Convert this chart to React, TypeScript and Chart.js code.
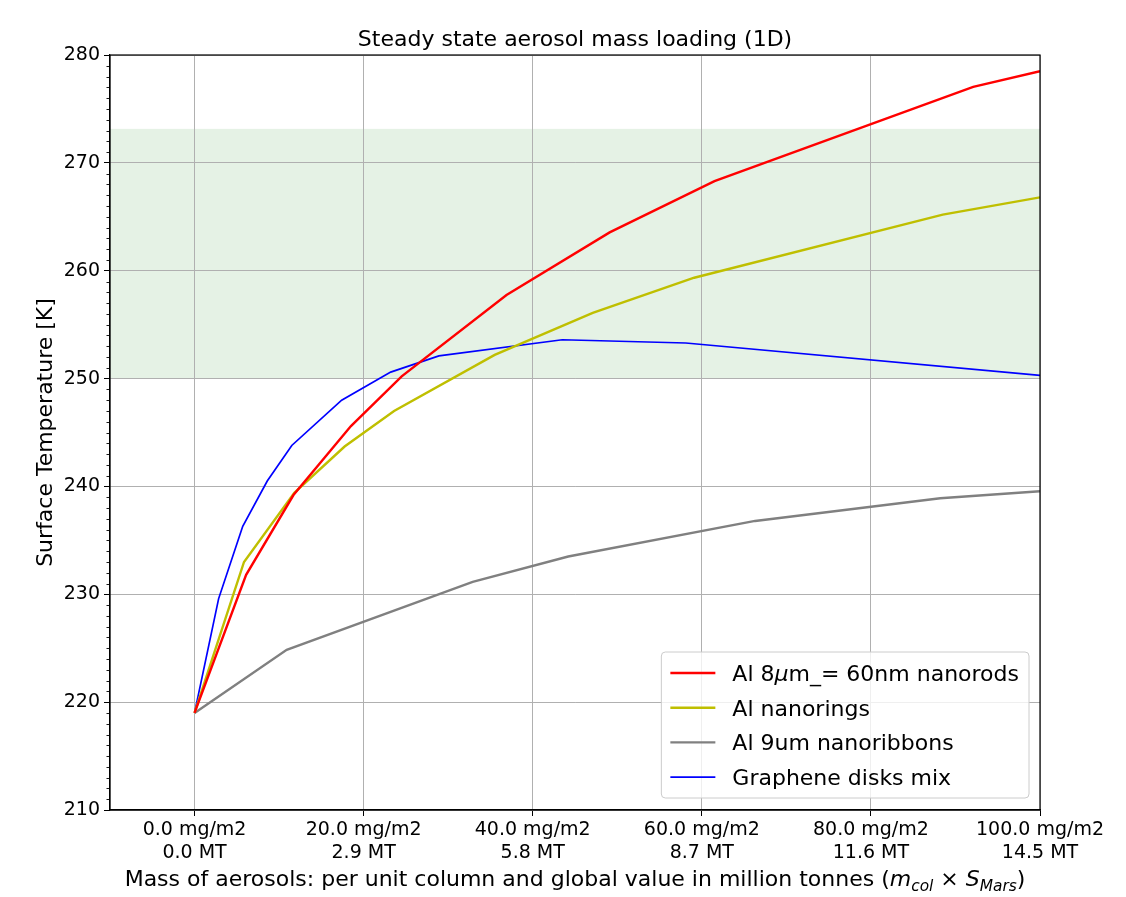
import React, { useEffect, useRef } from "react";
import { Chart, registerables } from "chart.js";

Chart.register(...registerables);

const FONT = "'DejaVu Sans', 'Liberation Sans', sans-serif";

const chartTitle = "Steady state aerosol mass loading (1D)";
const yAxisTitle = "Surface Temperature [K]";
const xAxisTitleMain = "Mass of aerosols: per unit column and global value in million tonnes (";

const seriesLabels = [
  "Al 8μm_= 60nm nanorods",
  "Al nanorings",
  "Al 9um nanoribbons",
  "Graphene disks mix",
];
const seriesColors = ["#ff0000", "#bfbf00", "#808080", "#0000ff"];
const seriesWidths = [2.4, 2.4, 2.4, 1.7];

const redX = [0, 6.1, 11.7, 18.5, 24.5, 36.9, 49.1, 61.5, 92.1, 100];
const redY = [219.0, 231.8, 239.2, 245.6, 250.2, 257.75, 263.55, 268.3, 277.05, 278.5];

const yellowX = [0, 5.85, 11.8, 17.75, 23.6, 35.5, 47.1, 59.1, 88.5, 100];
const yellowY = [219.0, 233.0, 239.4, 243.7, 247.0, 252.2, 256.1, 259.35, 265.2, 266.8];

const grayX = [0, 10.9, 32.9, 44.2, 66.3, 88.2, 100];
const grayY = [219.0, 224.85, 231.15, 233.5, 236.8, 238.9, 239.55];

const blueX = [0, 2.85, 5.7, 8.6, 11.5, 17.4, 23.2, 28.9, 43.5, 58.1, 100];
const blueY = [219.0, 229.6, 236.3, 240.5, 243.8, 248.0, 250.6, 252.1, 253.6, 253.3, 250.3];

const xTickValues = [0, 20, 40, 60, 80, 100];
const xTickMass = ["0.0 mg/m2", "20.0 mg/m2", "40.0 mg/m2", "60.0 mg/m2", "80.0 mg/m2", "100.0 mg/m2"];
const xTickMT = ["0.0 MT", "2.9 MT", "5.8 MT", "8.7 MT", "11.6 MT", "14.5 MT"];
const xRange = [-10, 100];
const yRange = [210, 280];
const yMinorStep = 1;
const habitableBand = [250, 273.15];

type Seg = { t: string; it?: boolean; sub?: boolean };

function drawSegments(
  ctx: CanvasRenderingContext2D,
  segs: Seg[],
  x: number,
  y: number,
  size: number,
  align: "left" | "center"
) {
  const fontFor = (s: Seg) => `${s.it ? "italic " : ""}${s.sub ? size * 0.7 : size}px ${FONT}`;
  const widths = segs.map((s) => {
    ctx.font = fontFor(s);
    return ctx.measureText(s.t).width;
  });
  const total = widths.reduce((a, b) => a + b, 0);
  let cx = align === "center" ? x - total / 2 : x;
  ctx.textAlign = "left";
  ctx.textBaseline = "alphabetic";
  segs.forEach((s, i) => {
    ctx.font = fontFor(s);
    ctx.fillText(s.t, cx, y + (s.sub ? size * 0.22 : 0));
    cx += widths[i];
  });
  return total;
}

function labelSegs(label: string): Seg[] {
  const parts = label.split("μ");
  const segs: Seg[] = [];
  parts.forEach((p, i) => {
    if (i > 0) segs.push({ t: "μ", it: true });
    if (p) segs.push({ t: p });
  });
  return segs;
}

export default function App() {
  const ref = useRef<HTMLCanvasElement>(null);

  useEffect(() => {
    const canvas = ref.current;
    if (!canvas) return;

    const xs = [redX, yellowX, grayX, blueX];
    const ys = [redY, yellowY, grayY, blueY];

    const decor = {
      id: "decor",
      beforeDraw(chart: any) {
        const { ctx, chartArea: a, scales } = chart;
        ctx.save();
        ctx.fillStyle = "#ffffff";
        ctx.fillRect(0, 0, chart.width, chart.height);
        const yTop = scales.y.getPixelForValue(habitableBand[1]);
        const yBot = scales.y.getPixelForValue(habitableBand[0]);
        ctx.fillStyle = "rgba(0,128,0,0.1)";
        ctx.fillRect(a.left, yTop, a.right - a.left, yBot - yTop);
        ctx.restore();
      },
      afterDraw(chart: any) {
        const { ctx, chartArea: a, scales } = chart;
        ctx.save();
        // spines
        ctx.strokeStyle = "#000";
        ctx.lineWidth = 1.2;
        ctx.strokeRect(a.left, a.top, a.right - a.left, a.bottom - a.top);
        // minor ticks on y
        ctx.lineWidth = 0.9;
        for (let v = yRange[0]; v <= yRange[1]; v += yMinorStep) {
          if (v % 10 === 0) continue;
          const py = Math.round(scales.y.getPixelForValue(v)) + 0.5;
          ctx.beginPath();
          ctx.moveTo(a.left - 3.5, py);
          ctx.lineTo(a.left, py);
          ctx.stroke();
        }
        ctx.fillStyle = "#000";
        // title
        ctx.font = `22px ${FONT}`;
        ctx.textAlign = "center";
        ctx.textBaseline = "alphabetic";
        ctx.fillText(chartTitle, (a.left + a.right) / 2, 46);
        // y axis title
        ctx.save();
        ctx.translate(46, (a.top + a.bottom) / 2);
        ctx.rotate(-Math.PI / 2);
        ctx.font = `22px ${FONT}`;
        ctx.textAlign = "center";
        ctx.textBaseline = "middle";
        ctx.fillText(yAxisTitle, 0, 0);
        ctx.restore();
        // x axis title
        drawSegments(
          ctx,
          [
            { t: xAxisTitleMain },
            { t: "m", it: true },
            { t: "col", it: true, sub: true },
            { t: " × " },
            { t: "S", it: true },
            { t: "Mars", it: true, sub: true },
            { t: ")" },
          ],
          (a.left + a.right) / 2,
          886,
          22,
          "center"
        );
        // legend
        const fs = 22;
        let maxW = 0;
        chart.data.datasets.forEach((ds: any) => {
          const segs = labelSegs(ds.label);
          let w = 0;
          segs.forEach((s) => {
            ctx.font = `${s.it ? "italic " : ""}${fs}px ${FONT}`;
            w += ctx.measureText(s.t).width;
          });
          maxW = Math.max(maxW, w);
        });
        const boxRight = a.right - 11;
        const boxBottom = a.bottom - 12;
        const boxW = 71 + maxW + 10;
        const boxH = 146;
        const boxLeft = boxRight - boxW;
        const boxTop = boxBottom - boxH;
        ctx.beginPath();
        (ctx as any).roundRect(boxLeft, boxTop, boxW, boxH, 4);
        ctx.fillStyle = "rgba(255,255,255,0.8)";
        ctx.fill();
        ctx.strokeStyle = "#cccccc";
        ctx.lineWidth = 1;
        ctx.stroke();
        chart.data.datasets.forEach((ds: any, i: number) => {
          const cy = boxTop + 21 + i * 34.7;
          ctx.strokeStyle = ds.borderColor;
          ctx.lineWidth = ds.borderWidth;
          ctx.beginPath();
          ctx.moveTo(boxLeft + 9, cy);
          ctx.lineTo(boxLeft + 54, cy);
          ctx.stroke();
          ctx.fillStyle = "#000";
          drawSegments(ctx, labelSegs(ds.label), boxLeft + 71, cy + 8, fs, "left");
        });
        ctx.restore();
      },
    };

    const chart = new Chart(canvas, {
      type: "line",
      data: {
        datasets: seriesLabels.map((label, i) => ({
          label,
          data: xs[i].map((x, j) => ({ x, y: ys[i][j] })),
          borderColor: seriesColors[i],
          backgroundColor: seriesColors[i],
          borderWidth: seriesWidths[i],
          pointRadius: 0,
          tension: 0,
          fill: false,
        })),
      },
      options: {
        responsive: false,
        animation: false,
        devicePixelRatio: 1,
        layout: { padding: { left: 0, top: 55, right: 86, bottom: 0 } },
        plugins: {
          legend: { display: false },
          title: { display: false },
          tooltip: { enabled: false },
        },
        scales: {
          x: {
            type: "linear",
            min: xRange[0],
            max: xRange[1],
            afterBuildTicks: (s: any) => {
              s.ticks = xTickValues.map((v) => ({ value: v }));
            },
            afterFit: (s: any) => {
              s.height = 87;
            },
            grid: {
              color: "#b0b0b0",
              lineWidth: 1,
              tickColor: "#000",
              tickLength: 6,
              drawTicks: true,
            },
            border: { color: "#000", width: 1.2 },
            ticks: {
              color: "#000",
              font: { family: FONT, size: 19, lineHeight: 1.2 },
              padding: 3,
              maxRotation: 0,
              autoSkip: false,
              callback: (v: any) => {
                const k = xTickValues.indexOf(Number(v));
                return k >= 0 ? [xTickMass[k], xTickMT[k]] : "";
              },
            },
          },
          y: {
            type: "linear",
            min: yRange[0],
            max: yRange[1],
            afterFit: (s: any) => {
              s.width = 110;
            },
            grid: {
              color: "#b0b0b0",
              lineWidth: 1,
              tickColor: "#000",
              tickLength: 6,
              drawTicks: true,
            },
            border: { color: "#000", width: 1.2 },
            ticks: {
              color: "#000",
              font: { family: FONT, size: 19 },
              padding: 4,
              stepSize: 10,
              callback: (v: any) => String(v),
            },
          },
        },
      },
      plugins: [decor],
    });

    return () => chart.destroy();
  }, []);

  return (
    <div style={{ position: "fixed", left: 0, top: 0, width: 1126, height: 897, background: "#fff" }}>
      <canvas ref={ref} width={1126} height={897} style={{ width: 1126, height: 897, display: "block" }} />
    </div>
  );
}
